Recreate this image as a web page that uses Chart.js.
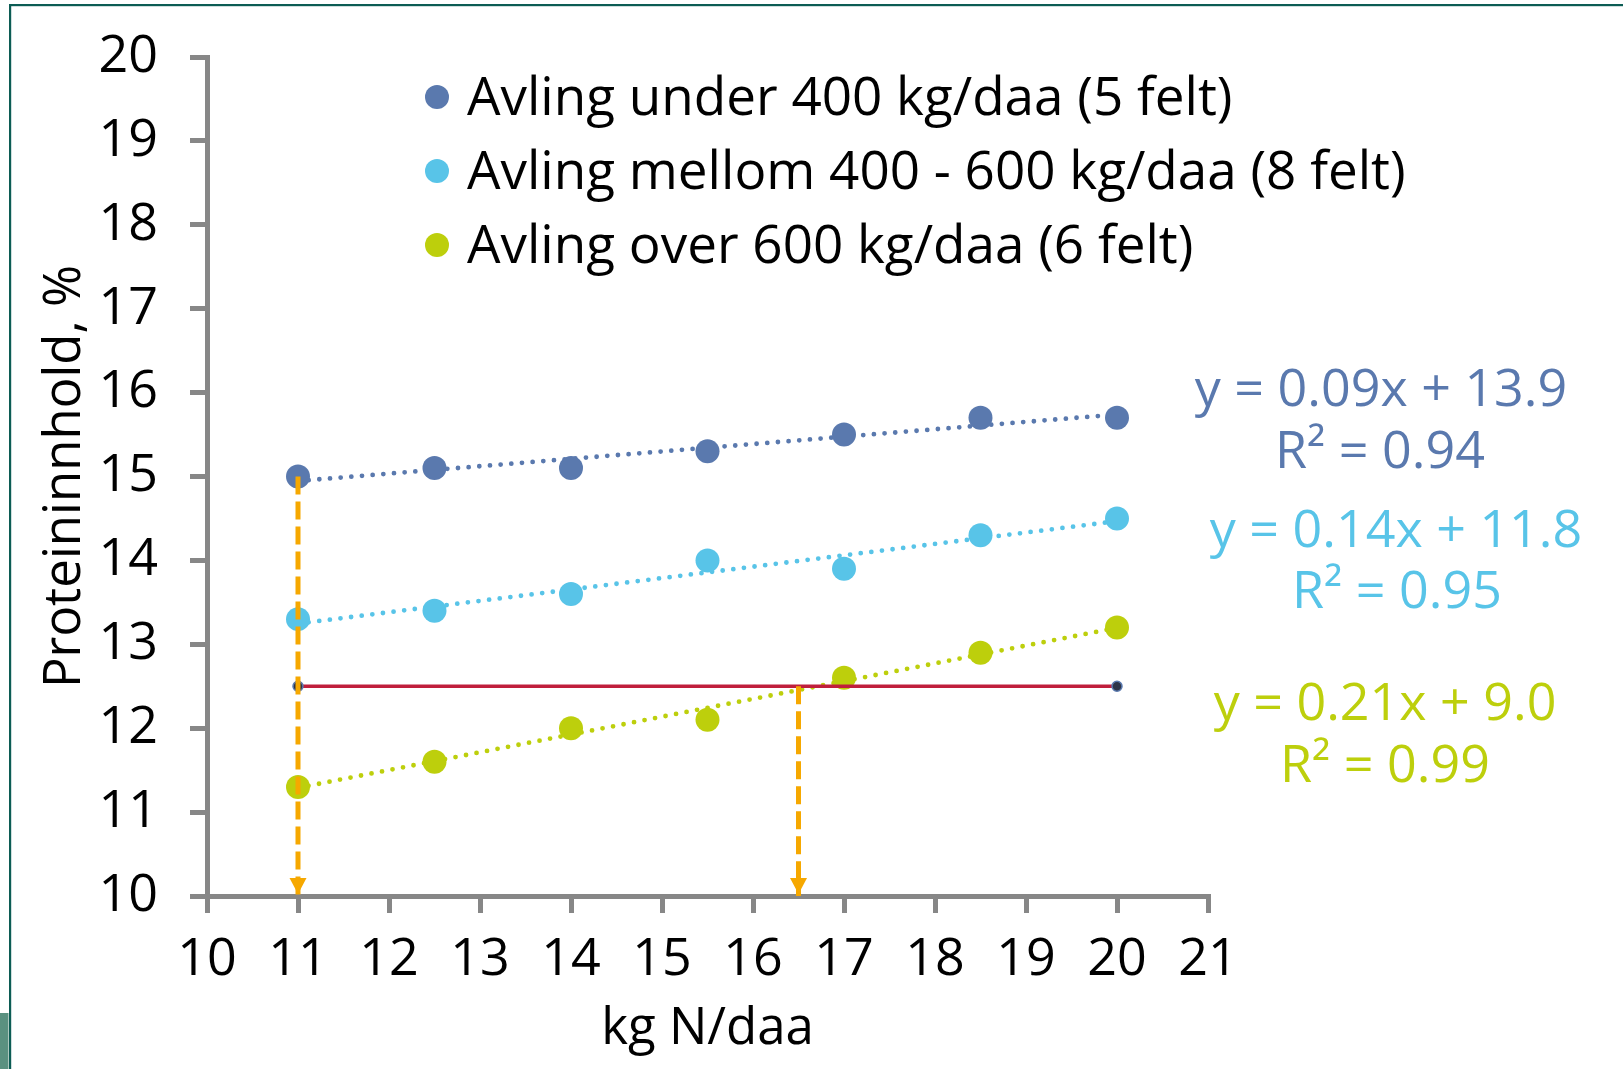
<!DOCTYPE html>
<html><head><meta charset="utf-8">
<script src="https://cdn.jsdelivr.net/npm/chart.js@4/dist/chart.umd.min.js"></script>
<style>html,body{margin:0;padding:0;background:#fff;overflow:hidden}canvas{display:block}</style>
</head><body>
<canvas id="c" width="1623" height="1069"></canvas>
<script>
// ---- data ----
const xValues = [11, 12.5, 14, 15.5, 17, 18.5, 20];
const under400 = [15.0, 15.1, 15.1, 15.3, 15.5, 15.7, 15.7];
const between400and600 = [13.3, 13.4, 13.6, 14.0, 13.9, 14.3, 14.5];
const over600 = [11.3, 11.6, 12.0, 12.1, 12.6, 12.9, 13.2];
const seriesNames = ['Avling under 400 kg/daa (5 felt)', 'Avling mellom 400 - 600 kg/daa (8 felt)', 'Avling over 600 kg/daa (6 felt)'];
const equationLines = [['y = 0.09x + 13.9', 'R\u00B2 = 0.94'], ['y = 0.14x + 11.8', 'R\u00B2 = 0.95'], ['y = 0.21x + 9.0', 'R\u00B2 = 0.99']];
const targetProtein = 12.5;
const targetRangeX = [11, 20];
const arrowX = [11, 16.5];
const arrowFromY = [15, 12.5];
const xTicks = [10, 11, 12, 13, 14, 15, 16, 17, 18, 19, 20, 21];
const yTicks = [10, 11, 12, 13, 14, 15, 16, 17, 18, 19, 20];
const xTitle = 'kg N/daa';
const yTitle = 'Proteininnhold, %';

// ---- styles ----
const colors = ['#5a79ae', '#58c4e8', '#bdcf0c'];
const FONT = '"Open Sans", "Noto Sans", sans-serif';

function regression(xs, ys) {
  const n = xs.length;
  const mx = xs.reduce((a, b) => a + b, 0) / n;
  const my = ys.reduce((a, b) => a + b, 0) / n;
  let sxy = 0, sxx = 0;
  for (let i = 0; i < n; i++) { sxy += (xs[i] - mx) * (ys[i] - my); sxx += (xs[i] - mx) ** 2; }
  const b = sxy / sxx;
  return { slope: b, intercept: my - b * mx };
}
const pts = ys => xValues.map((x, i) => ({ x, y: ys[i] }));
const trend = ys => {
  const r = regression(xValues, ys);
  const x0 = Math.min(...xValues), x1 = Math.max(...xValues);
  return [{ x: x0, y: r.intercept + r.slope * x0 }, { x: x1, y: r.intercept + r.slope * x1 }];
};
const allSeries = [under400, between400and600, over600];

const datasets = [];
allSeries.forEach((ys, i) => {
  datasets.push({ label: seriesNames[i], data: pts(ys), showLine: false, pointRadius: 12, pointBackgroundColor: colors[i], pointBorderWidth: 0, order: 3 });
});
allSeries.forEach((ys, i) => {
  datasets.push({ label: 'trend' + i, data: trend(ys), showLine: true, pointRadius: 0, borderColor: colors[i], borderWidth: 4.8, borderDash: [0, 10.7], borderCapStyle: 'round', order: 4 });
});
datasets.push({ label: 'target', data: targetRangeX.map(x => ({ x, y: targetProtein })), showLine: true, borderColor: '#c01f3c', borderWidth: 3.5, pointRadius: 5, pointBackgroundColor: '#2d3448', pointBorderColor: '#5a79ae', pointBorderWidth: 1.5, order: 2 });
arrowX.forEach((x, i) => {
  datasets.push({ label: 'arrow' + i, isArrow: true, data: [{ x, y: arrowFromY[i] }, { x, y: yTicks[0] }], showLine: true, borderColor: '#f6a800', borderWidth: 5, borderDash: [18, 7], pointRadius: 0, order: 1 });
});

const decor = {
  id: 'decor',
  beforeDraw(chart) {
    const c = chart.ctx;
    c.save();
    c.fillStyle = '#ffffff'; c.fillRect(0, 0, chart.width, chart.height);
    c.fillStyle = '#0c5c54';
    c.fillRect(9, 4, chart.width - 9, 2.2);
    c.fillRect(9, 4, 2.2, chart.height - 4);
    c.fillStyle = '#5a9180';
    c.fillRect(0, 1013, 8.5, chart.height - 1013);
    c.restore();
  },
  afterDatasetsDraw(chart) {
    const c = chart.ctx;
    chart.data.datasets.forEach((ds, i) => {
      if (!ds.isArrow) return;
      const meta = chart.getDatasetMeta(i);
      const p = meta.data[meta.data.length - 1];
      const tipY = p.y - 2;
      c.save();
      c.fillStyle = ds.borderColor;
      c.beginPath();
      c.moveTo(p.x, tipY);
      c.lineTo(p.x - 8.5, tipY - 16);
      c.lineTo(p.x + 8.5, tipY - 16);
      c.closePath();
      c.fill();
      c.restore();
    });
  },
  afterDraw(chart) {
    const c = chart.ctx;
    c.save();
    // legend
    const legendRows = [115, 189, 263];
    c.font = '53px ' + FONT;
    c.textAlign = 'left';
    c.textBaseline = 'alphabetic';
    seriesNames.forEach((name, i) => {
      c.fillStyle = colors[i];
      c.beginPath(); c.arc(437, legendRows[i] - 18, 12, 0, Math.PI * 2); c.fill();
      c.fillStyle = '#000';
      c.fillText(name, 467, legendRows[i]);
    });
    // equations
    const eqPos = [[1381, 391, 1380, 453], [1396, 532, 1397, 593], [1385, 705, 1385, 767]];
    c.font = '52px ' + FONT;
    c.textAlign = 'center';
    c.textBaseline = 'middle';
    equationLines.forEach((lines, i) => {
      c.fillStyle = colors[i];
      c.fillText(lines[0], eqPos[i][0], eqPos[i][1]);
      c.fillText(lines[1], eqPos[i][2], eqPos[i][3]);
    });
    c.restore();
  }
};

const axisGrid = { drawOnChartArea: false, drawTicks: true, tickLength: 17, lineWidth: 5, color: '#878787' };
const axisBorder = { display: true, width: 5, color: '#878787' };

new Chart(document.getElementById('c'), {
  type: 'scatter',
  data: { datasets },
  options: {
    responsive: false,
    animation: false,
    devicePixelRatio: 1,
    layout: { padding: { top: 57, right: 415, left: 0, bottom: 0 } },
    plugins: { legend: { display: false }, tooltip: { enabled: false } },
    scales: {
      x: {
        type: 'linear', min: xTicks[0], max: xTicks[xTicks.length - 1],
        afterBuildTicks: s => { s.ticks = xTicks.map(v => ({ value: v })); },
        ticks: { font: { family: FONT, size: 52 }, color: '#000', padding: 16, maxRotation: 0, autoSkip: false },
        grid: axisGrid, border: axisBorder,
        title: { display: true, text: xTitle, font: { family: FONT, size: 51 }, color: '#000', padding: { top: 0, bottom: 9 } },
        afterFit: s => { s.height = 173; s.paddingLeft = 0; s.paddingRight = 0; }
      },
      y: {
        type: 'linear', min: yTicks[0], max: yTicks[yTicks.length - 1],
        afterBuildTicks: s => { s.ticks = yTicks.map(v => ({ value: v })); },
        ticks: { font: { family: FONT, size: 52 }, color: '#000', padding: 32, autoSkip: false },
        grid: axisGrid, border: axisBorder,
        title: { display: true, text: yTitle, font: { family: FONT, size: 51 }, color: '#000', padding: { top: 35, bottom: 0 } },
        afterFit: s => { s.width = 207; s.paddingTop = 0; s.paddingBottom = 0; }
      }
    }
  },
  plugins: [decor]
});
</script>
</body></html>
